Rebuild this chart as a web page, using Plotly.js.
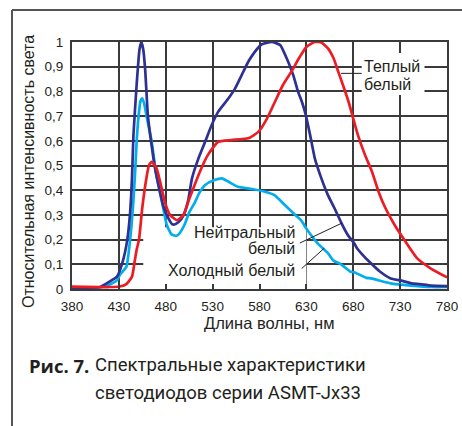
<!DOCTYPE html>
<html>
<head>
<meta charset="utf-8">
<script src="https://cdn.plot.ly/plotly-3.0.1.min.js"></script>
<style>html,body{margin:0;padding:0;background:#fff;}#chart{width:462px;height:426px;}</style>
</head>
<body>
<div id="chart"></div>
<script>
// Wavelengths (nm) and relative intensities
const wlNeutral = [380,400,410,420,428,434,439,442,444,445.5,449,452,454,456,458,461,465,468.5,474,477,483,487,490,494,497,500.5,504,508,515,522,529,536,547,554,561,568,575,582,593,602,609,616,621,625,629,634,639,646,653,660,667,674,681,684,692,700,708,720,730,742,751,763,780];
const neutral   = [0.005,0.005,0.008,0.03,0.05,0.11,0.2,0.31,0.45,0.62,0.83,0.97,1.0,0.97,0.89,0.7,0.58,0.49,0.39,0.34,0.285,0.262,0.262,0.272,0.285,0.313,0.36,0.448,0.53,0.596,0.664,0.718,0.772,0.812,0.866,0.92,0.96,0.99,1.0,0.988,0.934,0.866,0.8,0.76,0.71,0.623,0.529,0.448,0.38,0.327,0.27,0.22,0.185,0.165,0.13,0.1,0.072,0.043,0.035,0.023,0.02,0.014,0.012];

const wlCold = [380,400,415,428,431,438,442,445,447,449,451,453,455,457,460,465,470,476,481,486,491,494,500,505,511,516,522,532,540,547,557,572,586,596,607,618,624,631,642,653,659,667,677,681,694,699,720,742,763,780];
const cold   = [0.005,0.005,0.01,0.035,0.057,0.09,0.2,0.33,0.45,0.6,0.7,0.76,0.772,0.75,0.69,0.596,0.46,0.353,0.26,0.222,0.215,0.222,0.26,0.31,0.35,0.39,0.421,0.441,0.448,0.434,0.414,0.405,0.394,0.38,0.34,0.3,0.28,0.239,0.185,0.145,0.115,0.1,0.07,0.068,0.045,0.043,0.023,0.014,0.008,0.008];

const wlWarm = [380,420,431,438,444,447,449,451.5,455,459,462,465,470,474,479,484.5,492,499,504,508,518,525,536,550,568,579,588,596.5,605,614,623,630,639,646,653,659,664,669,675,680,685,692.5,700,707,714,724,736,748,762,780];
const warm   = [0.01,0.008,0.01,0.02,0.05,0.115,0.16,0.2,0.33,0.44,0.5,0.515,0.49,0.434,0.353,0.3,0.279,0.3,0.353,0.394,0.489,0.543,0.596,0.603,0.61,0.637,0.69,0.758,0.826,0.88,0.94,0.98,1.0,0.998,0.974,0.934,0.88,0.826,0.758,0.69,0.623,0.543,0.475,0.394,0.33,0.26,0.19,0.125,0.085,0.047];

const xTicks = [380,430,480,530,580,630,680,730,780];
const yTicks = [0,0.1,0.2,0.3,0.4,0.5,0.6,0.7,0.8,0.9,1];

const seriesNames = ['Холодный белый','Нейтральный белый','Теплый белый'];
const colors = ['#00aeef','#2e3192','#ed1c24'];

const txt = '#231f20';
const gridC = '#3a3a3a';
const fontMain = 'Liberation Sans, Arial, sans-serif';

function tr(x, y, i){
  return {x:x, y:y, type:'scatter', mode:'lines', name:seriesNames[i],
    line:{color:colors[i], width:2.7, shape:'spline', smoothing:0.5}, hoverinfo:'skip'};
}
const data = [tr(wlCold,cold,0), tr(wlNeutral,neutral,1), tr(wlWarm,warm,2)];

const axisCommon = {
  showgrid:true, gridcolor:gridC, gridwidth:2,
  showline:true, mirror:true, linecolor:gridC, linewidth:2,
  zeroline:false, ticks:'inside', ticklen:5, tickwidth:2, tickcolor:gridC,
  tickfont:{family:fontMain, size:13.5, color:txt}, fixedrange:true
};

const layout = {
  width:462, height:426,
  margin:{l:72, r:15, t:42, b:137},
  paper_bgcolor:'#fff', plot_bgcolor:'#fff',
  showlegend:false, separators:', ',
  xaxis:Object.assign({}, axisCommon, {range:[380,780], tickvals:xTicks, ticklabelstandoff:4}),
  yaxis:Object.assign({}, axisCommon, {range:[0,1], tickvals:yTicks, ticklabelstandoff:4}),
  shapes:[
    // outer figure frame
    {type:'line', xref:'paper', yref:'paper', x0:-0.16, x1:1.05, y0:1.1296, y1:1.1296, line:{color:'#555', width:2}},
    {type:'line', xref:'paper', yref:'paper', x0:-0.16, x1:-0.16, y0:1.1296, y1:-0.56, line:{color:'#555', width:2}},
    // white label backgrounds masking the grid
    {type:'rect', xref:'x', yref:'y', x0:689, x1:756, y0:0.785, y1:0.955, fillcolor:'#fff', line:{width:0}, layer:'between'},
    {type:'rect', xref:'x', yref:'y', x0:456, x1:630, y0:0, y1:0.25, fillcolor:'#fff', line:{width:0}, layer:'between'},
    // leader lines
    {type:'line', xref:'x', yref:'y', x0:667, x1:689, y0:0.873, y1:0.873, line:{color:txt, width:1}},
    {type:'line', xref:'x', yref:'y', x0:623, x1:668, y0:0.186, y1:0.267, line:{color:txt, width:1}},
    {type:'line', xref:'x', yref:'y', x0:625, x1:649, y0:0.083, y1:0.165, line:{color:txt, width:1}}
  ],
  annotations:[
    {text:'Относительная интенсивность света', xref:'paper', yref:'paper', x:(28-72)/375, y:(289-172)/247, textangle:-90, showarrow:false, xanchor:'center', yanchor:'middle', font:{family:fontMain, size:16, color:txt}},
    {text:'Длина волны, нм', xref:'paper', yref:'paper', x:(269-72)/375, y:(289-323)/247, showarrow:false, xanchor:'center', yanchor:'middle', font:{family:fontMain, size:16.5, color:txt}},
    {text:'Теплый', xref:'x', yref:'y', x:689.5, y:0.899, showarrow:false, xanchor:'left', yanchor:'middle', font:{family:fontMain, size:16, color:txt}},
    {text:'белый', xref:'x', yref:'y', x:689.5, y:0.826, showarrow:false, xanchor:'left', yanchor:'middle', font:{family:fontMain, size:16, color:txt}},
    {text:'Нейтральный', xref:'x', yref:'y', x:620, y:0.227, showarrow:false, xanchor:'right', yanchor:'middle', font:{family:fontMain, size:16, color:txt}},
    {text:'белый', xref:'x', yref:'y', x:620, y:0.162, showarrow:false, xanchor:'right', yanchor:'middle', font:{family:fontMain, size:16, color:txt}},
    {text:'Холодный белый', xref:'x', yref:'y', x:620, y:0.073, showarrow:false, xanchor:'right', yanchor:'middle', font:{family:fontMain, size:16, color:txt}},
    {text:'<b>Рис. 7.</b>', xref:'paper', yref:'paper', x:(27-72)/375, y:(289-365)/247, showarrow:false, xanchor:'left', yanchor:'middle', font:{family:'Open Sans, sans-serif', size:18.5, color:txt}},
    {text:'Спектральные характеристики', xref:'paper', yref:'paper', x:(93-72)/375, y:(289-365)/247, showarrow:false, xanchor:'left', yanchor:'middle', font:{family:'Roboto, sans-serif', size:18.5, color:txt}},
    {text:'светодиодов серии ASMT-Jx33', xref:'paper', yref:'paper', x:(93-72)/375, y:(289-393)/247, showarrow:false, xanchor:'left', yanchor:'middle', font:{family:'Roboto, sans-serif', size:18.5, color:txt}}
  ]
};

Plotly.newPlot('chart', data, layout, {displayModeBar:false, staticPlot:true});
</script>
</body>
</html>
